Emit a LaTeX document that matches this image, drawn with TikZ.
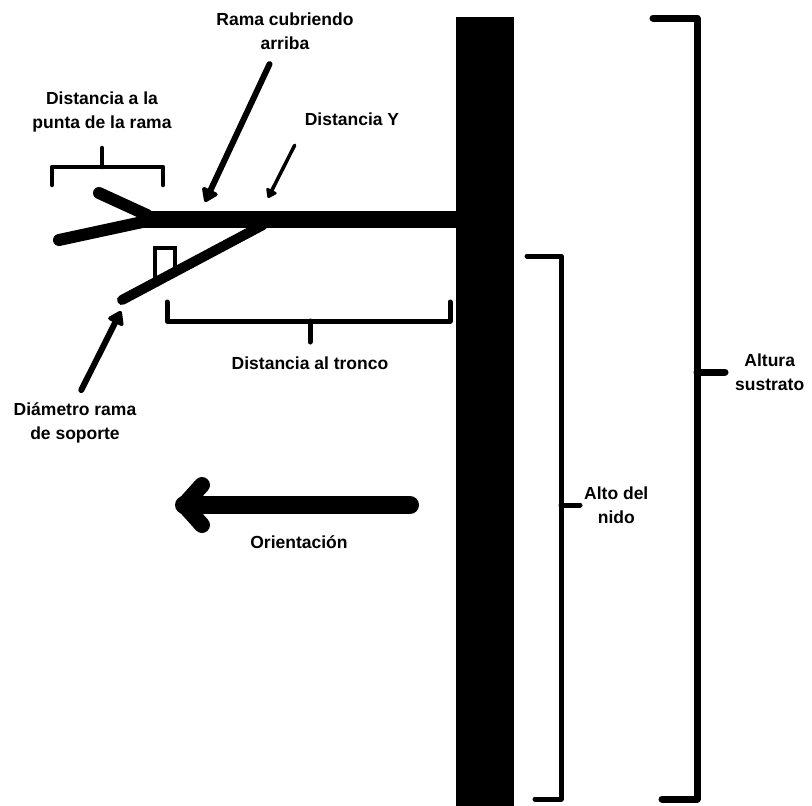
\documentclass[tikz,border=0pt]{standalone}
\usepackage{fontspec}
\setmainfont{Liberation Sans}
\usetikzlibrary{positioning,arrows.meta}

\begin{document}
\begin{tikzpicture}[
  x=1pt, y=-1pt,
  node distance=6pt,
  lab/.style={font=\bfseries\fontsize{17.5}{24}\selectfont, align=center, inner sep=0pt},
  bar/.style={line width=5pt, line cap=round, line join=round},
  twig/.style={line width=12pt, line cap=round},
  ptr/.style={line width=6pt, line cap=round, -{Triangle[length=15pt,width=19pt,round]}},
  thinptr/.style={line width=3.5pt, line cap=round, -{Triangle[length=10pt,width=13pt,round]}}
]
\useasboundingbox (0,0) rectangle (812,806);
% trunk and branches
\fill (456,17) rectangle (514,806);
\draw[line width=17pt] (143,219) -- (457,219);
\draw[twig] (99,193) -- (147,215);
\draw[twig] (59,240) -- (147,221);
\draw[line width=10pt, line cap=round] (122,300) -- (263,225);
\draw[line width=4pt] (155,278) -- (155,248) -- (175,248) -- (175,268);

% brackets
\coordinate (tip-stem) at (102,148);
\draw[bar, line width=4.5pt] (52,185) -- (52,167) -- (163,167) -- (163,185) (102,167) -- (tip-stem);
\coordinate (trk-stem) at (310,342);
\draw[bar] (167,302) -- (167,321) -- (450,321) -- (450,302) (310,321) -- (trk-stem);
\coordinate (nest-stem) at (580,505);
\draw[bar] (527,256) -- (561,256) -- (561,799) -- (535,799) (561,505) -- (nest-stem);
\coordinate (subs-stem) at (725,372);
\draw[bar, line width=7pt] (653,18) -- (697,18) -- (697,799) -- (662,799) (697,372) -- (subs-stem);

% labels
\node[lab] (rama-lab) at (285,31) {Rama cubriendo\\arriba};
\node[lab, above=16pt of tip-stem] (tip-lab) {Distancia a la\\punta de la rama};
\node[lab] (y-lab) at (352,119) {Distancia Y};
\node[lab, below=15pt of trk-stem] (trk-lab) {Distancia al tronco};
\node[lab] (diam-lab) at (75,423) {Diámetro rama\\de soporte};
\node[lab] (orient-lab) at (299,542) {Orientación};
\node[lab, right=4pt of nest-stem] (nest-lab) {Alto del\\nido};
\node[lab, right=10pt of subs-stem] (subs-lab) {Altura\\sustrato};

% pointers
\coordinate (rama-tip) at (205,202);
\coordinate (y-tip) at (268,198);
\coordinate (diam-tip) at (121,311);
\draw[ptr, shorten <=16pt] (rama-lab) -- (rama-tip);
\draw[thinptr, shorten <=22pt] (y-lab.south west) -- (y-tip);
\draw[ptr, shorten <=14pt] (diam-lab.north) -- (diam-tip);

% orientation arrow
\coordinate (orient-tail) at (410,505);
\coordinate (orient-tip) at (184,505);
\draw[line width=18pt, line cap=round] (orient-tail) -- (orient-tip);
\draw[line width=16pt, line cap=round, line join=round] (orient-tip) ++(18,-20) -- (orient-tip) -- ++(18,20);
\end{tikzpicture}
\end{document}
